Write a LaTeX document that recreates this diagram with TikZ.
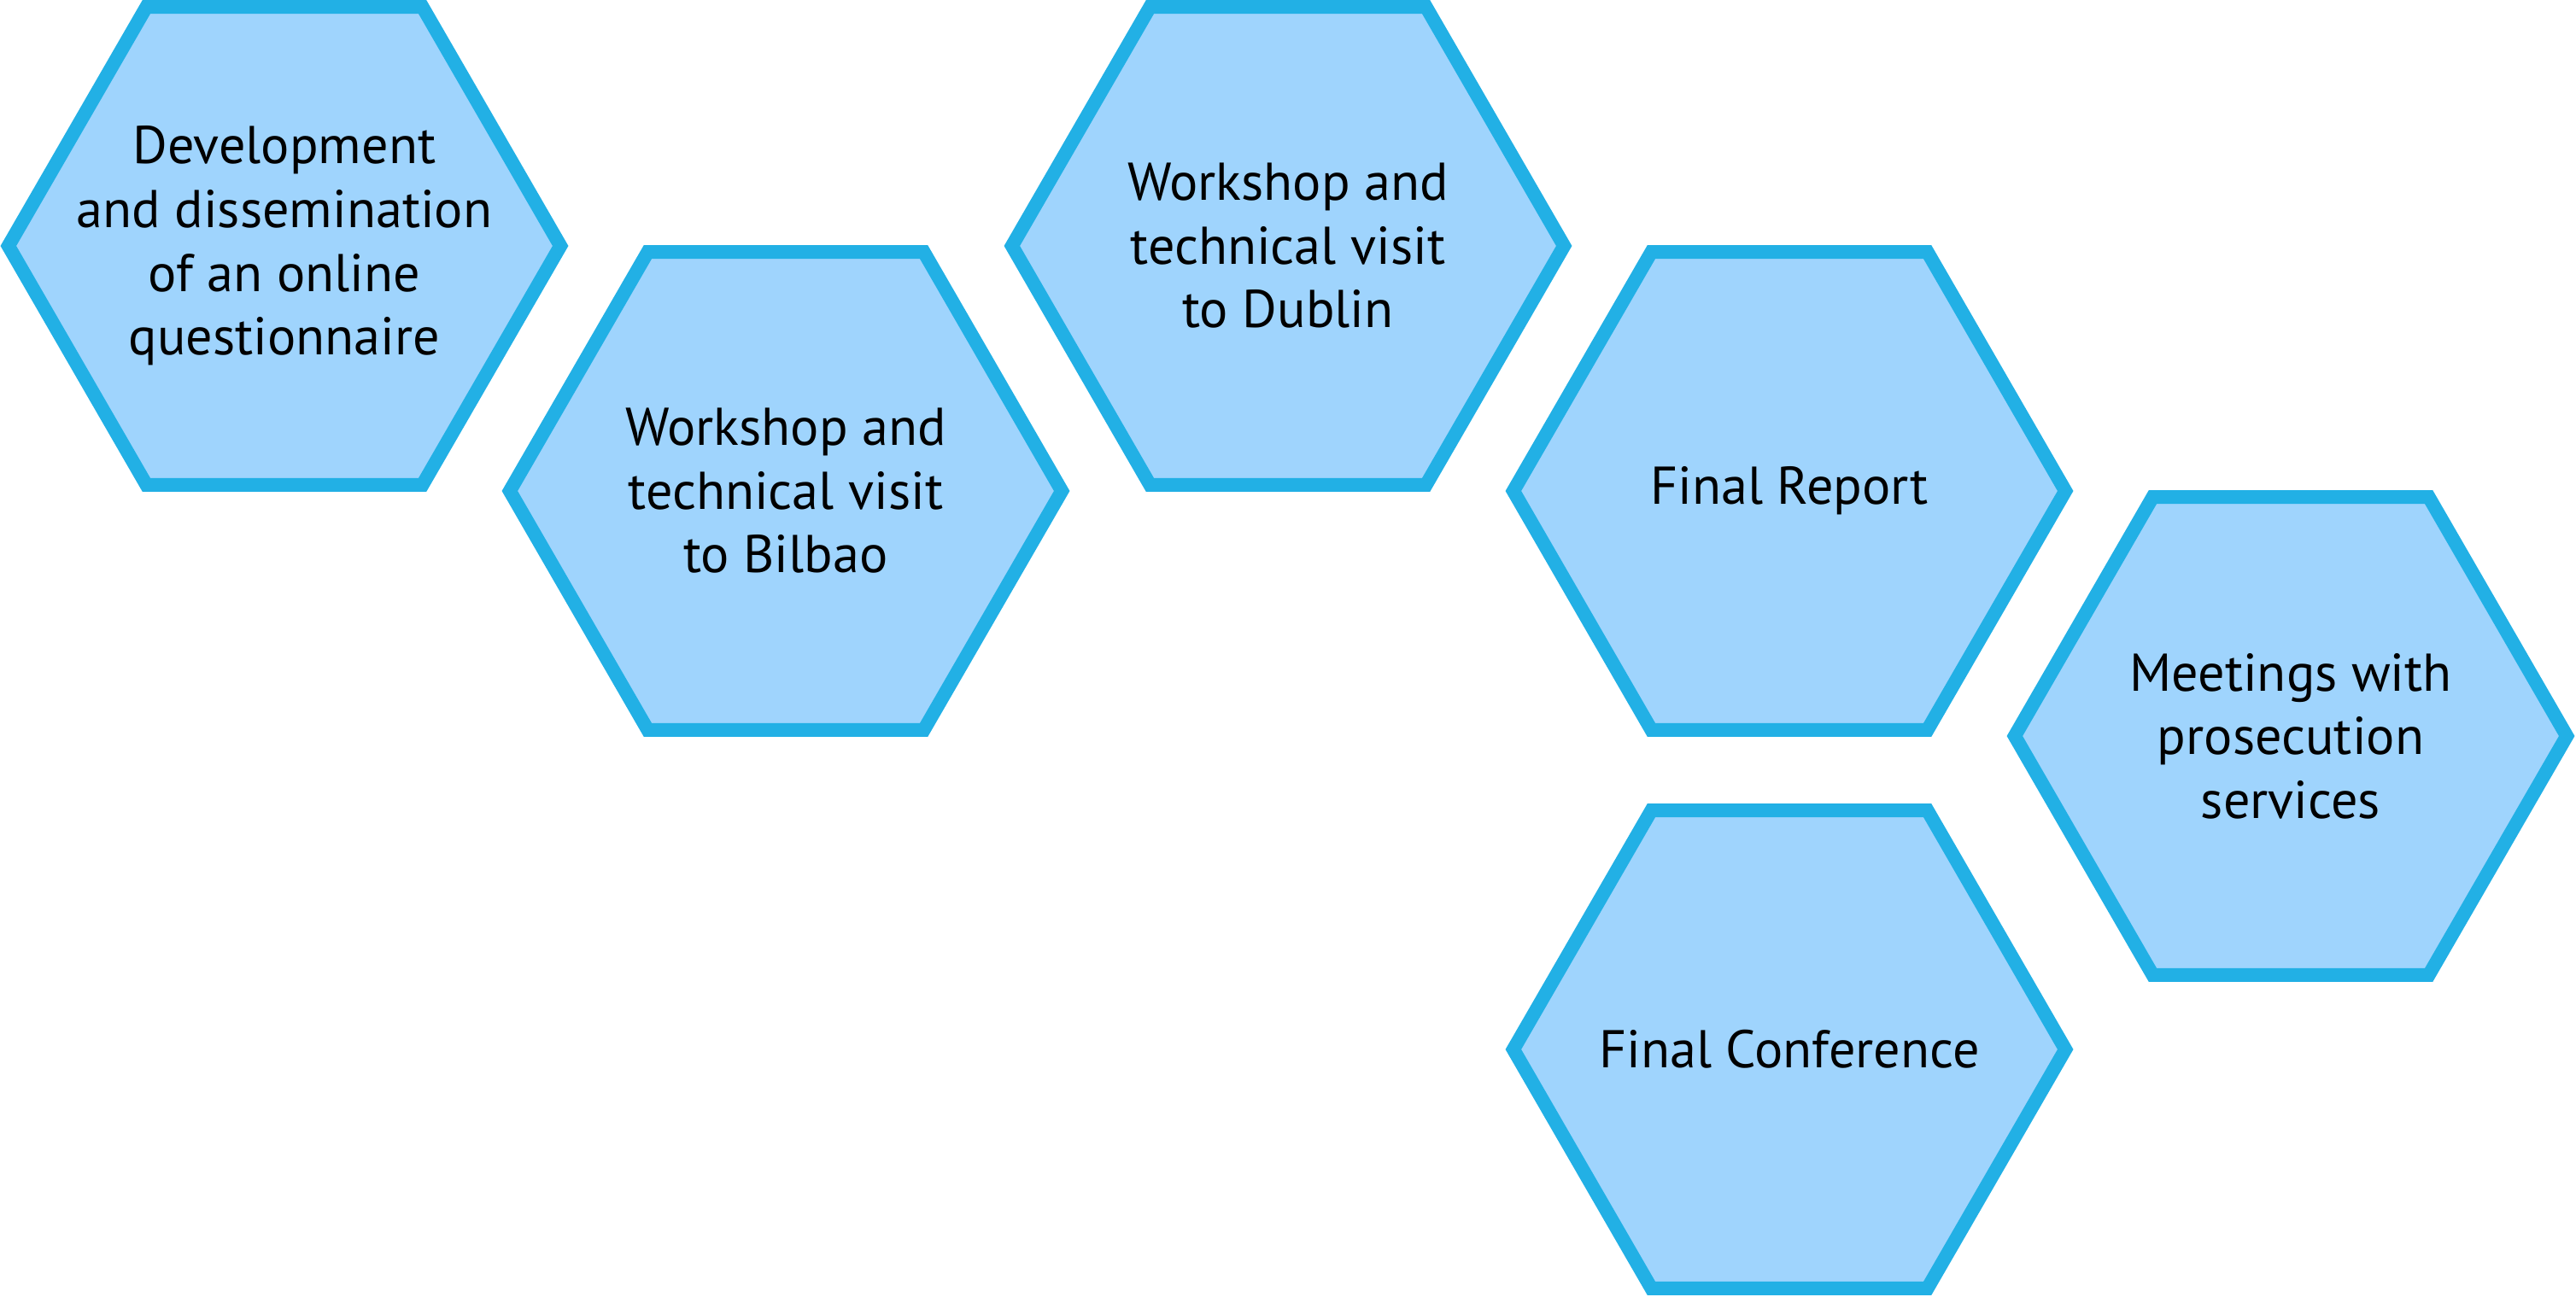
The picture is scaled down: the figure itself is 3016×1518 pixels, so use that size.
\documentclass[tikz,border=0pt]{standalone}
\usepackage{fontspec}
\setmainfont{PT Sans}
\usetikzlibrary{shapes.geometric}

\definecolor{hexfill}{HTML}{9FD4FD}
\definecolor{hexline}{HTML}{22B0E5}

\tikzset{
  hexa/.style={regular polygon, regular polygon sides=6, minimum size=6.46cm,
    inner sep=0pt, draw=hexline, fill=hexfill, line width=0.16cm},
  hexlabel/.style={align=center, inner sep=0pt,
    font=\fontsize{17.7pt}{21.2pt}\selectfont}
}

\begin{document}
\begin{tikzpicture}[x=0.01cm, y=-0.01cm]
\useasboundingbox (0,0) rectangle (3016,1518);

% Hexagonos con sus textos
\foreach \name/\x/\y/\txt in {
    quest/333/288/{Development\\and dissemination\\of an online\\questionnaire},
    bilbao/920/575/{Workshop and\\technical visit\\to Bilbao},
    dublin/1508/288/{Workshop and\\technical visit\\to Dublin},
    report/2095/575/{Final Report},
    meet/2682/862/{Meetings with\\prosecution\\services},
    conf/2095/1229/{Final Conference}} {
    \node[hexa] (\name) at (\x,\y) {};
    \node[hexlabel] (\name-txt) at (\name) {\txt};
}

\end{tikzpicture}
\end{document}
